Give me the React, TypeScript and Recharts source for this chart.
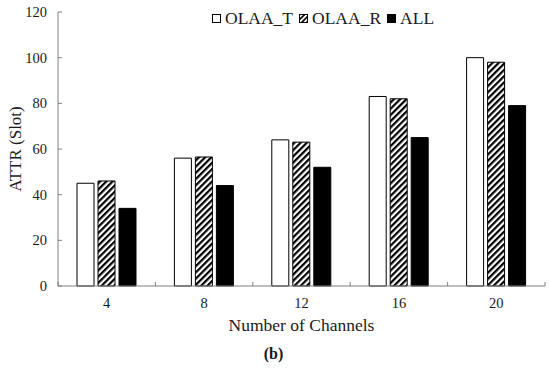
import React from 'react'
import { BarChart, Bar, XAxis, YAxis, Legend, Label } from 'recharts'

// values (b)
const channels = ['4', '8', '12', '16', '20']
const olaaT = [45, 56, 64, 83, 100]
const olaaR = [46, 56.5, 63, 82, 98]
const allCh = [34, 44, 52, 65, 79]
const yTicks = [0, 20, 40, 60, 80, 100, 120]
const seriesNames = ['OLAA_T', 'OLAA_R', 'ALL']

const data = channels.map((c, i) => ({
  channel: c,
  olaaT: olaaT[i],
  olaaR: olaaR[i],
  all: allCh[i],
}))

const W = 550
const H = 368
const MARGIN = { top: 12, right: 5, bottom: 32, left: 0 }
const Y_AXIS_W = 58
const X_AXIS_H = 50
const PLOT_LEFT = MARGIN.left + Y_AXIS_W
const AXIS_Y = H - MARGIN.bottom - X_AXIS_H
const BAND = (W - PLOT_LEFT - MARGIN.right) / channels.length
const FONT = '"Liberation Serif", "Times New Roman", serif'
const AXIS = '#808080'
const INK = '#1a1a1a'

const XTick = ({ x, payload, index }: any) => (
  <g>
    <line x1={x - BAND / 2} x2={x - BAND / 2} y1={AXIS_Y} y2={AXIS_Y - 4} stroke={AXIS} />
    {index === channels.length - 1 && (
      <line x1={x + BAND / 2} x2={x + BAND / 2} y1={AXIS_Y} y2={AXIS_Y - 4} stroke={AXIS} />
    )}
    <text x={x} y={AXIS_Y + 22} textAnchor="middle" fontSize={14.5} fontFamily={FONT} fill={INK}>
      {payload.value}
    </text>
  </g>
)

const YTick = ({ y, payload }: any) => (
  <g>
    <line x1={PLOT_LEFT} x2={PLOT_LEFT + 4} y1={y} y2={y} stroke={AXIS} />
    <text x={PLOT_LEFT - 11} y={y} dy="0.35em" textAnchor="end" fontSize={14.5} fontFamily={FONT} fill={INK}>
      {payload.value}
    </text>
  </g>
)

const Swatch = ({ kind }: { kind: number }) => (
  <svg width={9} height={9} style={{ display: 'block' }}>
    <defs>
      <pattern id="hatchLegend" patternUnits="userSpaceOnUse" width={3.5} height={3.5} patternTransform="rotate(45)">
        <rect width={3.5} height={3.5} fill="#fff" />
        <rect width={1.7} height={3.5} fill="#000" />
      </pattern>
    </defs>
    <rect
      x={0.5}
      y={0.5}
      width={8}
      height={8}
      fill={kind === 0 ? '#fff' : kind === 1 ? 'url(#hatchLegend)' : '#000'}
      stroke="#000"
      strokeWidth={1}
    />
  </svg>
)

const LegendBox = () => (
  <div style={{ display: 'flex', alignItems: 'center', fontFamily: FONT, fontSize: 17.5, color: INK, lineHeight: '18px' }}>
    {seriesNames.map((name, i) => (
      <div key={name} style={{ display: 'flex', alignItems: 'center', marginRight: 6 }}>
        <Swatch kind={i} />
        <span style={{ marginLeft: 4, whiteSpace: 'nowrap' }}>{name}</span>
      </div>
    ))}
  </div>
)

export default function App() {
  return (
    <div style={{ position: 'absolute', left: 0, top: 0, width: W, height: H, background: '#fff' }}>
      <BarChart width={W} height={H} data={data} margin={MARGIN} barSize={17} barGap={4}>
        <defs>
          <pattern id="hatch" patternUnits="userSpaceOnUse" width={4.4} height={4.4} patternTransform="rotate(45)">
            <rect width={4.4} height={4.4} fill="#fff" />
            <rect width={2.2} height={4.4} fill="#000" />
          </pattern>
        </defs>
        <XAxis
          dataKey="channel"
          height={X_AXIS_H}
          stroke={AXIS}
          tickLine={false}
          tick={<XTick />}
          interval={0}
        >
          <Label
            value="Number of Channels"
            position="insideBottom"
            offset={5}
            style={{ fontFamily: FONT, fontSize: 17.5, fill: INK }}
          />
          <Label
            value="(b)"
            position="insideBottom"
            offset={-23}
            dx={-28}
            style={{ fontFamily: FONT, fontSize: 16, fontWeight: 'bold', fill: INK }}
          />
        </XAxis>
        <YAxis
          width={Y_AXIS_W}
          domain={[0, 120]}
          ticks={yTicks}
          stroke={AXIS}
          tickLine={false}
          tick={<YTick />}
          label={({ viewBox }: any) => (
            <text
              x={15}
              y={viewBox.y + viewBox.height / 2}
              transform={`rotate(-90, 15, ${viewBox.y + viewBox.height / 2})`}
              textAnchor="middle"
              dominantBaseline="central"
              fontFamily={FONT}
              fontSize={17}
              fill={INK}
            >
              ATTR (Slot)
            </text>
          )}
        />
        <Legend
          layout="horizontal"
          verticalAlign="middle"
          align="center"
          content={<LegendBox />}
          wrapperStyle={{ left: 212, top: 9, width: 'auto' }}
        />
        <Bar dataKey="olaaT" name="OLAA_T" fill="#fff" stroke="#000" strokeWidth={1} isAnimationActive={false} />
        <Bar dataKey="olaaR" name="OLAA_R" fill="url(#hatch)" stroke="#000" strokeWidth={1} isAnimationActive={false} />
        <Bar dataKey="all" name="ALL" fill="#000" stroke="#000" strokeWidth={1} isAnimationActive={false} />
      </BarChart>
    </div>
  )
}
